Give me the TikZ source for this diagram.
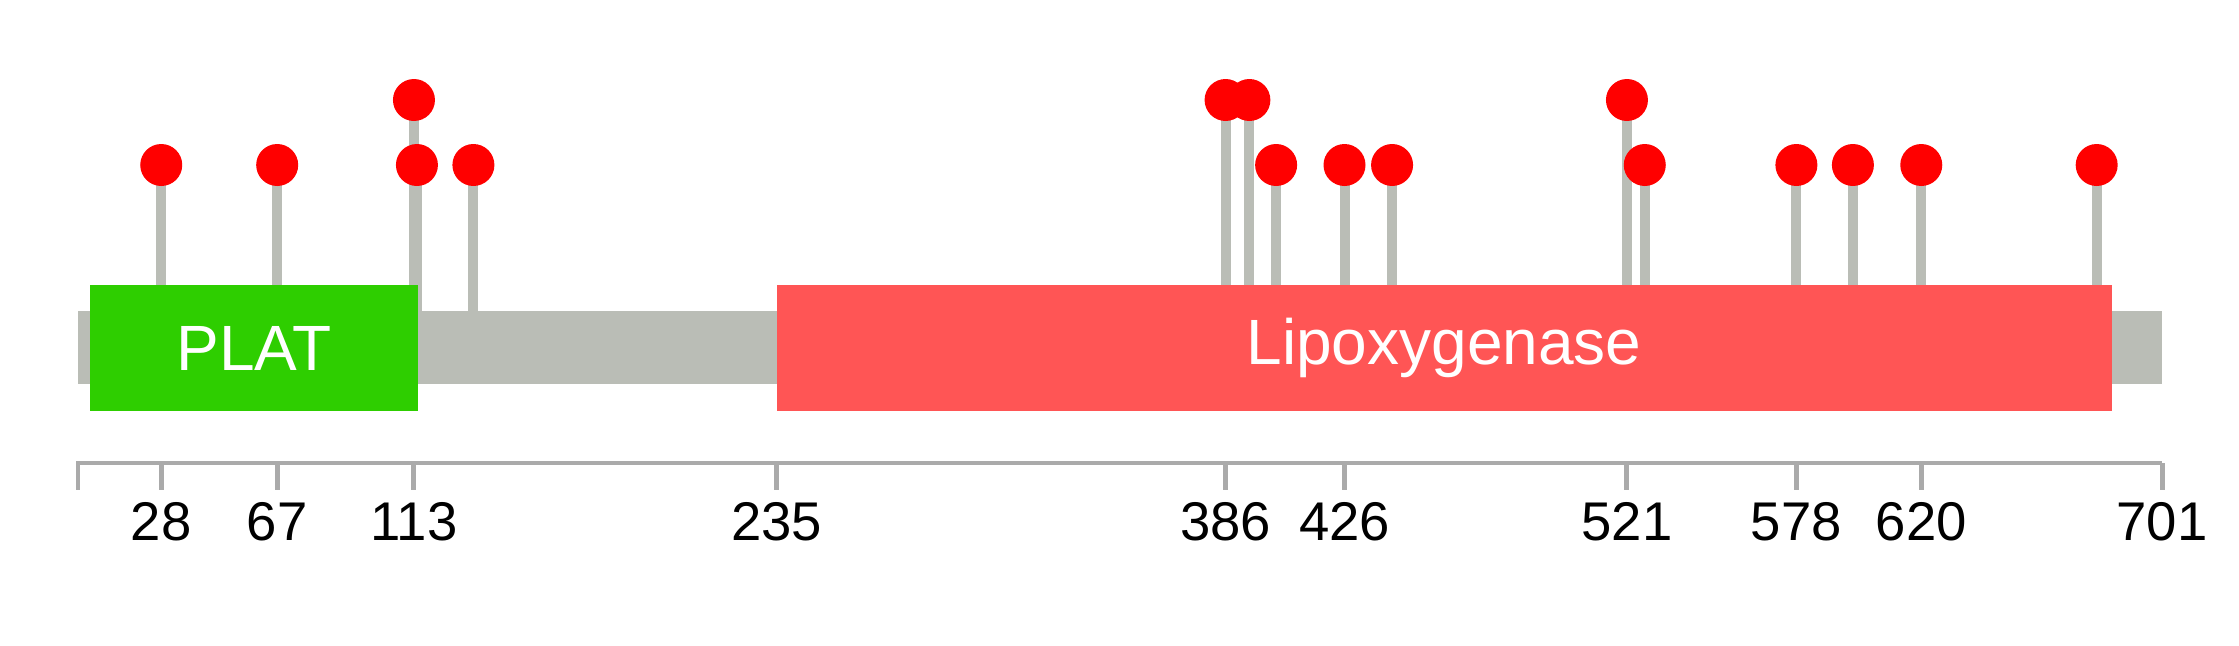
\documentclass[tikz,border=0pt]{standalone}
\usepackage{fontspec}
\setmainfont{Liberation Sans}
\begin{document}
\begin{tikzpicture}[x=0.01cm,y=-0.01cm]
  \definecolor{backbone}{HTML}{BABDB6}
  \definecolor{platgreen}{HTML}{2ECE00}
  \definecolor{loxred}{HTML}{FF5555}
  \definecolor{mutred}{HTML}{FF0000}
  \definecolor{axisgrey}{HTML}{AAAAAA}
  \useasboundingbox (0,0) rectangle (2239,645);

  % sticks
  \foreach \pos in {28,67,114,133,403,426,442,527,578,597,620,679}
    \draw[backbone,line width=2.85pt] ({78+2.973*\pos},165) -- ({78+2.973*\pos},311);
  \foreach \pos in {113,386,394,521}
    \draw[backbone,line width=2.85pt] ({78+2.973*\pos},100) -- ({78+2.973*\pos},311);

  % backbone and domains
  \fill[backbone] (78,311) rectangle (2162,384);
  \fill[platgreen] (90,285) rectangle (418,411);
  \node[text=white,font=\fontsize{18.2}{21}\selectfont] (plat) at (254,348) {PLAT};
  \fill[loxred] (776.5,285) rectangle (2112,411);
  \node[text=white,font=\fontsize{18.2}{21}\selectfont] (lox) at (1444,348) {Lipoxygenase};

  % mutations
  \foreach \pos in {28,67,114,133,403,426,442,527,578,597,620,679}
    \fill[mutred] ({78+2.973*\pos},165) circle (21);
  \foreach \pos in {113,386,394,521}
    \fill[mutred] ({78+2.973*\pos},100) circle (21);

  % axis
  \draw[axisgrey,line width=1.14pt] (78,463) -- (2162,463);
  \draw[axisgrey,line width=1.42pt] (78,461) -- (78,490);
  \foreach \pos in {28,67,113,235,386,426,521,578,620,701} {
    \draw[axisgrey,line width=1.42pt] ({78+2.973*\pos},463) -- ({78+2.973*\pos},490);
    \node[anchor=base,inner sep=0pt,font=\fontsize{15.5}{18}\selectfont] (lbl\pos) at ({78+2.973*\pos},540) {\pos};
  }
\end{tikzpicture}
\end{document}
